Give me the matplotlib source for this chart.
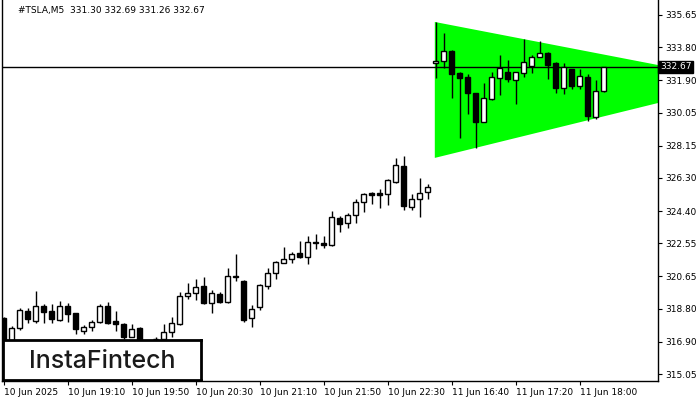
import matplotlib
matplotlib.use("Agg")
import matplotlib.pyplot as plt
from matplotlib.patches import Rectangle

# OHLC of the M5 candles (bar index = position on the x axis)
opens = [318.27, 316.70, 317.70, 318.65, 318.10, 318.96, 318.67, 318.15, 318.96, 318.56,
         317.52, 317.75, 318.04, 318.96, 318.10, 317.93, 317.18, 317.69, 316.89, 317.05,
         317.06, 317.46, 317.93, 319.55, 319.72, 320.10, 319.13, 319.65, 319.19, 320.60,
         320.39, 318.27, 318.90, 320.10, 320.85, 321.42, 321.65, 321.99, 321.77, 322.63,
         322.57, 322.45, 324.00, 323.72, 324.18, 324.92, 325.44, 325.44, 325.38, 326.07,
         326.99, 324.63, 325.09, 325.50,
         332.88, 333.03, 333.58, 332.34, 332.09, 331.17, 329.53, 330.83, 332.05, 332.38,
         331.92, 332.32, 332.74, 333.26, 333.45, 332.88, 331.44, 332.55, 331.58, 332.08,
         329.82, 331.30]
highs = [318.35, 317.80, 318.85, 318.85, 319.82, 319.07, 319.07, 319.24, 319.13, 318.58,
         317.87, 318.15, 319.07, 319.19, 318.67, 317.98, 317.93, 317.75, 316.95, 317.15,
         317.93, 318.33, 319.76, 320.27, 320.50, 320.62, 319.87, 319.76, 321.14, 321.94,
         320.45, 319.01, 320.21, 321.14, 321.54, 322.34, 322.05, 322.68, 322.97, 323.09,
         322.97, 324.41, 324.12, 324.29, 325.09, 325.44, 325.50, 325.67, 326.24, 327.45,
         327.56, 325.38, 326.30, 325.95,
         335.25, 334.62, 333.62, 332.40, 332.27, 331.20, 331.75, 332.38, 333.36, 333.07,
         332.40, 334.27, 333.36, 334.16, 333.53, 332.97, 332.88, 332.57, 332.53, 332.25,
         331.92, 332.69]
lows = [316.40, 316.60, 317.55, 317.95, 317.98, 317.98, 317.98, 318.10, 318.04, 317.35,
        317.35, 317.52, 317.98, 317.93, 317.52, 317.06, 317.15, 316.60, 316.32, 316.95,
        317.00, 317.18, 317.87, 319.36, 319.30, 319.07, 318.56, 319.13, 319.13, 320.39,
        318.04, 317.75, 318.73, 319.93, 320.50, 321.40, 321.42, 321.71, 321.36, 322.22,
        322.28, 322.40, 323.20, 323.43, 323.72, 324.35, 324.81, 324.58, 324.75, 326.01,
        324.46, 324.46, 324.06, 325.09,
        332.04, 332.63, 330.89, 328.59, 329.97, 328.02, 329.50, 330.80, 331.06, 331.82,
        330.54, 332.11, 332.32, 333.24, 331.98, 331.19, 331.10, 331.39, 331.39, 329.59,
        329.67, 331.26]
closes = [316.70, 317.70, 318.75, 318.20, 318.96, 318.61, 318.21, 318.96, 318.50, 317.64,
          317.75, 318.04, 318.96, 317.98, 317.93, 317.18, 317.64, 316.72, 316.54, 317.08,
          317.46, 317.98, 319.55, 319.72, 320.07, 319.13, 319.72, 319.19, 320.68, 320.65,
          318.15, 318.79, 320.16, 320.85, 321.48, 321.65, 321.94, 321.77, 322.63, 322.55,
          322.43, 324.06, 323.66, 324.18, 324.92, 325.38, 325.32, 325.35, 326.18, 327.04,
          324.69, 325.09, 325.44, 325.78,
          333.03, 333.58, 332.27, 332.05, 331.19, 329.53, 330.89, 332.09, 332.61, 331.98,
          332.38, 332.95, 333.26, 333.45, 332.78, 331.44, 332.68, 331.59, 332.15, 329.87,
          331.31, 332.67]

# symmetrical triangle pattern (bar index, upper and lower edge price)
tri_x = [53.9, 81.8]
tri_top = [335.25, 332.78]
tri_bot = [327.45, 330.60]

last_price = 332.67
price_ticks = [335.65, 333.80, 331.90, 330.05, 328.15, 326.30, 324.40, 322.55,
               320.65, 318.80, 316.90, 315.05]
time_pos = [0, 8, 16, 24, 32, 40, 48, 56, 64, 72]
time_labels = ["10 Jun 2025", "10 Jun 19:10", "10 Jun 19:50", "10 Jun 20:30",
               "10 Jun 21:10", "10 Jun 21:50", "10 Jun 22:30", "11 Jun 16:40",
               "11 Jun 17:20", "11 Jun 18:00"]

plt.rcParams['font.family'] = ['DejaVu Sans']

fig = plt.figure(figsize=(7, 4), dpi=100)
ax = fig.add_axes([2 / 700, 19 / 400, 656 / 700, 381 / 400])

# triangle
ax.fill([tri_x[0], tri_x[1], tri_x[1], tri_x[0]],
        [tri_top[0], tri_top[1], tri_bot[1], tri_bot[0]],
        color="#00ff00", lw=0, zorder=1)

ax.axhline(last_price, color="black", lw=1, zorder=2)

# candles
for i in range(len(opens)):
    o, h, l, c = opens[i], highs[i], lows[i], closes[i]
    ax.vlines(i, l, h, color="black", lw=1, zorder=3)
    fc = "white" if c >= o else "black"
    ax.add_patch(Rectangle((i - 0.27, min(o, c)), 0.54, max(abs(c - o), 0.02),
                           facecolor=fc, edgecolor="black", lw=1, zorder=4))

ax.set_xlim(-0.2, 81.8)
ax.set_ylim(314.65, 336.51)

ax.yaxis.tick_right()
ax.set_yticks(price_ticks)
ax.set_yticklabels(["%.2f" % p for p in price_ticks], fontsize=6.5)
ax.set_xticks(time_pos)
ax.set_xticklabels(time_labels, fontsize=6.5, ha="left")
ax.tick_params(axis="both", direction="out", length=3, width=0.8, pad=2, colors="black")
for s in ["left", "right", "bottom"]:
    ax.spines[s].set_linewidth(1)
ax.spines["top"].set_visible(False)

# current price label
ax.text(1.003, (last_price - 314.65) / (336.51 - 314.65), "%.2f" % last_price,
        transform=ax.transAxes, fontsize=6.5, color="white", va="center", ha="left",
        bbox=dict(boxstyle="square,pad=0.2", fc="black", ec="black"), zorder=10)

fig.text(18 / 700, 1 - 11 / 400, "#TSLA,M5  331.30 332.69 331.26 332.67",
         fontsize=6.5, va="center", ha="left")

# logo
logo = fig.add_axes([3 / 700, 20 / 400, 198 / 700, 40 / 400])
logo.set_xticks([])
logo.set_yticks([])
for s in logo.spines.values():
    s.set_linewidth(2)
logo.text(0.5, 0.47, "InstaFintech", fontsize=18, family=["Inter", "DejaVu Sans"],
          weight="medium", color="#1a1a1a", ha="center", va="center")

fig.savefig("out.png", dpi=100)
